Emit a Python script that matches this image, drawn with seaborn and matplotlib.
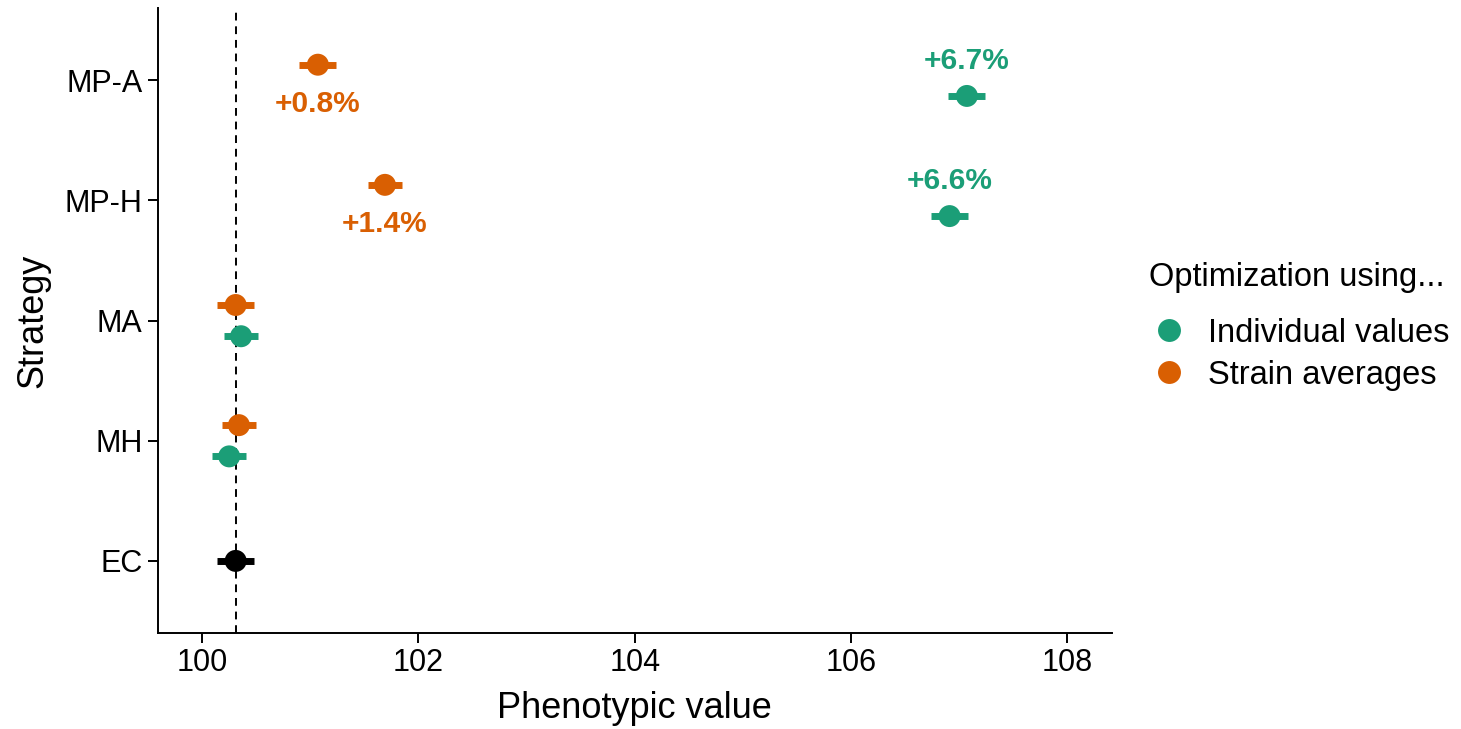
import numpy as np
import pandas as pd
import matplotlib
matplotlib.use("Agg")
import matplotlib.pyplot as plt
from matplotlib.lines import Line2D
import seaborn as sns

strategies = ["MP-A", "MP-H", "MA", "MH", "EC"]
individual_values = [107.07, 106.91, 100.36, 100.25, None]
individual_err = [0.17, 0.17, 0.16, 0.16, None]
strain_values = [101.07, 101.69, 100.31, 100.34, None]
strain_err = [0.17, 0.16, 0.17, 0.16, None]
ec_value = 100.31
ec_err = 0.17
individual_labels = ["+6.7%", "+6.6%", None, None, None]
strain_labels = ["+0.8%", "+1.4%", None, None, None]
groups = ["Individual values", "Strain averages"]
colors = {"Individual values": "#1B9E77", "Strain averages": "#D95F02", "EC": "#000000"}

sns.set_theme(style="ticks")
plt.rcParams['font.family'] = ['Liberation Sans', 'DejaVu Sans']
plt.rcParams['text.color'] = 'black'

rows = []
ypos = {s: len(strategies) - 1 - i for i, s in enumerate(strategies)}
dodge = 0.13
for i, s in enumerate(strategies):
    if individual_values[i] is not None:
        rows.append(dict(strategy=s, group="Individual values", value=individual_values[i],
                         err=individual_err[i], y=ypos[s] - dodge, label=individual_labels[i]))
    if strain_values[i] is not None:
        rows.append(dict(strategy=s, group="Strain averages", value=strain_values[i],
                         err=strain_err[i], y=ypos[s] + dodge, label=strain_labels[i]))
rows.append(dict(strategy="EC", group="EC", value=ec_value, err=ec_err, y=ypos["EC"], label=None))
df = pd.DataFrame(rows)

fig = plt.figure(figsize=(14.61, 7.29), dpi=100)
ax = fig.add_axes([0.108, 0.1317, 0.653, 0.857])

ax.axvline(ec_value, color="black", linestyle=(0, (4, 3)), linewidth=1.4, zorder=1)

for _, r in df.iterrows():
    ax.plot([r.value - r.err, r.value + r.err], [r.y, r.y], color=colors[r.group],
            linewidth=5, solid_capstyle="butt", zorder=2)

sns.scatterplot(data=df, x="value", y="y", hue="group", palette=colors, s=250,
                edgecolor="none", legend=False, ax=ax, zorder=3)

for _, r in df.iterrows():
    if r.label:
        if r.group == "Individual values":
            ax.text(r.value, r.y + 0.29, r.label, color=colors[r.group], ha="center",
                    va="center", fontsize=21.5, fontweight="bold")
        else:
            ax.text(r.value, r.y - 0.33, r.label, color=colors[r.group], ha="center",
                    va="center", fontsize=21.5, fontweight="bold")

ax.set_xlim(99.59, 108.41)
ax.set_ylim(-0.6, 4.6)
ax.set_xticks([100, 102, 104, 106, 108])
ax.set_yticks([ypos[s] for s in strategies])
ax.set_yticklabels(strategies)
ax.set_xlabel("Phenotypic value", fontsize=26, color="black", labelpad=9)
ax.set_ylabel("Strategy", fontsize=26, color="black", labelpad=10)
ax.tick_params(axis="both", labelsize=22, colors="black", length=7, width=1.4, pad=4)
for side in ["top", "right"]:
    ax.spines[side].set_visible(False)
for side in ["left", "bottom"]:
    ax.spines[side].set_linewidth(1.4)
    ax.spines[side].set_color("black")

handles = [Line2D([0], [0], marker="o", linestyle="none", markersize=16.5,
                  markerfacecolor=colors[g], markeredgecolor="none", label=g) for g in groups]
leg = fig.legend(handles=handles, title="Optimization using...", loc="upper left",
                 bbox_to_anchor=(0.782, 0.650), frameon=False, fontsize=23.5, title_fontsize=23.5,
                 handlelength=1.2, handletextpad=0.62, labelspacing=0.34, alignment="left",
                 borderaxespad=0, borderpad=0.2, labelcolor="black")
leg.get_title().set_color("black")
leg._legend_box.sep = 18

fig.savefig("out.png", dpi=100)
